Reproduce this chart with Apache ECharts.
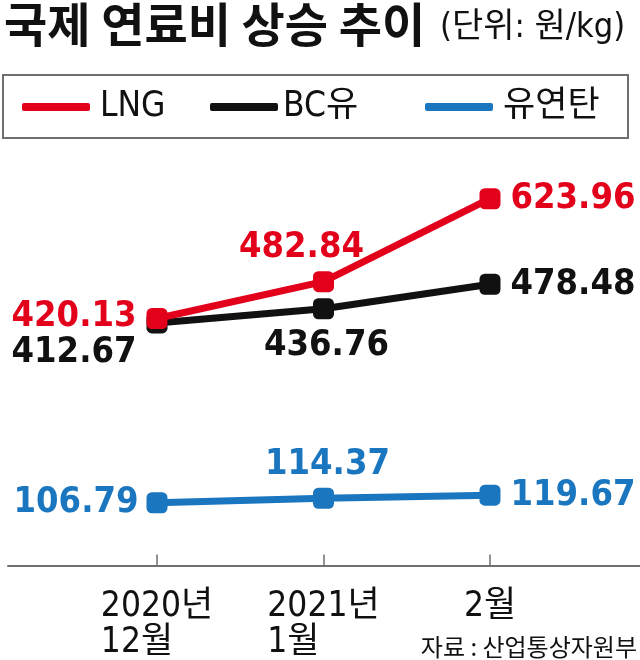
<!DOCTYPE html>
<html><head><meta charset="utf-8">
<script src="https://cdn.jsdelivr.net/npm/echarts@6/dist/echarts.min.js"></script>
<style>html,body{margin:0;padding:0;background:#fff}#c{width:640px;height:660px}</style>
</head><body><div id="c"></div>
<script>
const categories = ['2020년\n12월', '2021년\n1월', '2월'];
const seriesNames = ['LNG', 'BC유', '유연탄'];
const lngValues = [420.13, 482.84, 623.96];
const bcValues = [412.67, 436.76, 478.48];
const coalValues = [106.79, 114.37, 119.67];
const titleText = '국제 연료비 상승 추이';
const unitText = '(단위: 원/kg)';
const sourceText = '자료 : 산업통상자원부';

const RED = '#e3001b', BLACK = '#111111', BLUE = '#1b76c0';
const NUM_FONT = '"DejaVu Sans Condensed", "DejaVu Sans", "Noto Sans CJK KR"';
const KR_FONT = '"DejaVu Sans Condensed", "Noto Sans CJK KR"';

function lbl(pos, dist, off) {
  return { show: true, position: pos, distance: dist, offset: off || [0, 0] };
}
function build(values, labels) {
  return values.map((v, i) => ({ value: [i, v], label: labels[i] }));
}

const chart = echarts.init(document.getElementById('c'), null, { renderer: 'canvas' });
function mkSeries(name, color, values, labels, z) {
  return {
    name, type: 'line', z,
    data: build(values, labels),
    symbol: 'roundRect', symbolSize: 21,
    lineStyle: { color, width: 7 },
    itemStyle: { color },
    label: { color, fontFamily: NUM_FONT, fontWeight: 'bold', fontSize: 36 },
    emphasis: { disabled: true },
    animation: false
  };
}
function mkLegend(name, left, textPad) {
  return {
    data: [name], left, top: 87, padding: 0,
    icon: 'roundRect', itemWidth: 68, itemHeight: 8,
    textStyle: { fontFamily: KR_FONT, fontSize: 35, color: '#111', lineHeight: 40, padding: [0, 0, 0, textPad] },
    selectedMode: false
  };
}
chart.setOption({
  backgroundColor: '#fff',
  animation: false,
  title: [
    { text: titleText, left: 4, top: 1, padding: 0,
      textStyle: { fontFamily: '"Noto Sans CJK KR"', fontWeight: 'bold', fontSize: 47, color: '#111' } },
    { text: unitText, left: 440, top: 11, padding: 0,
      textStyle: { fontFamily: KR_FONT, fontWeight: 'normal', fontSize: 34, color: '#111' } },
    { text: sourceText, right: 3, bottom: 1, padding: 0,
      textStyle: { fontFamily: '"Noto Sans CJK KR"', fontWeight: 'normal', fontSize: 24, color: '#111' } }
  ],
  legend: [
    mkLegend(seriesNames[0], 22, 5),
    mkLegend(seriesNames[1], 210, 0),
    mkLegend(seriesNames[2], 425, 5)
  ],
  graphic: [{
    type: 'rect', shape: { x: 3, y: 75, width: 625, height: 63 },
    style: { fill: 'none', stroke: '#6f6f6f', lineWidth: 2 }, silent: true
  }],
  grid: { left: 8, right: 0, top: 154, bottom: 92, containLabel: false },
  xAxis: {
    type: 'value', min: -0.895, max: 2.901,
    splitLine: { show: false },
    axisLine: { show: true, lineStyle: { color: '#6f6f6f', width: 2 } },
    axisTick: { show: true, inside: true, length: 11, customValues: [0, 1, 2], lineStyle: { color: '#6f6f6f', width: 1.5 } },
    axisLabel: {
      show: true, customValues: [0, 1, 2], margin: 23,
      formatter: v => {
        const s = categories[Math.round(v)];
        if (s === undefined) return '';
        return s.split('\n').map(t => '{l|' + t + '}').join('\n');
      },
      rich: { l: { align: 'left', fontFamily: KR_FONT, fontSize: 35, lineHeight: 36, color: '#111' } }
    }
  },
  yAxis: { type: 'value', min: 0, max: 700, show: false, splitLine: { show: false } },
  series: [
    mkSeries(seriesNames[2], BLUE, coalValues,
      [lbl('left', 8), lbl('top', 5, [4, 0]), lbl('right', 10)], 2),
    mkSeries(seriesNames[1], BLACK, bcValues,
      [lbl('left', 10, [0, 30]), lbl('bottom', 8, [3, 0]), lbl('right', 10)], 3),
    mkSeries(seriesNames[0], RED, lngValues,
      [lbl('left', 10, [0, -2]), lbl('top', 6, [-22, 0]), lbl('right', 10)], 4)
  ]
});
</script></body></html>
